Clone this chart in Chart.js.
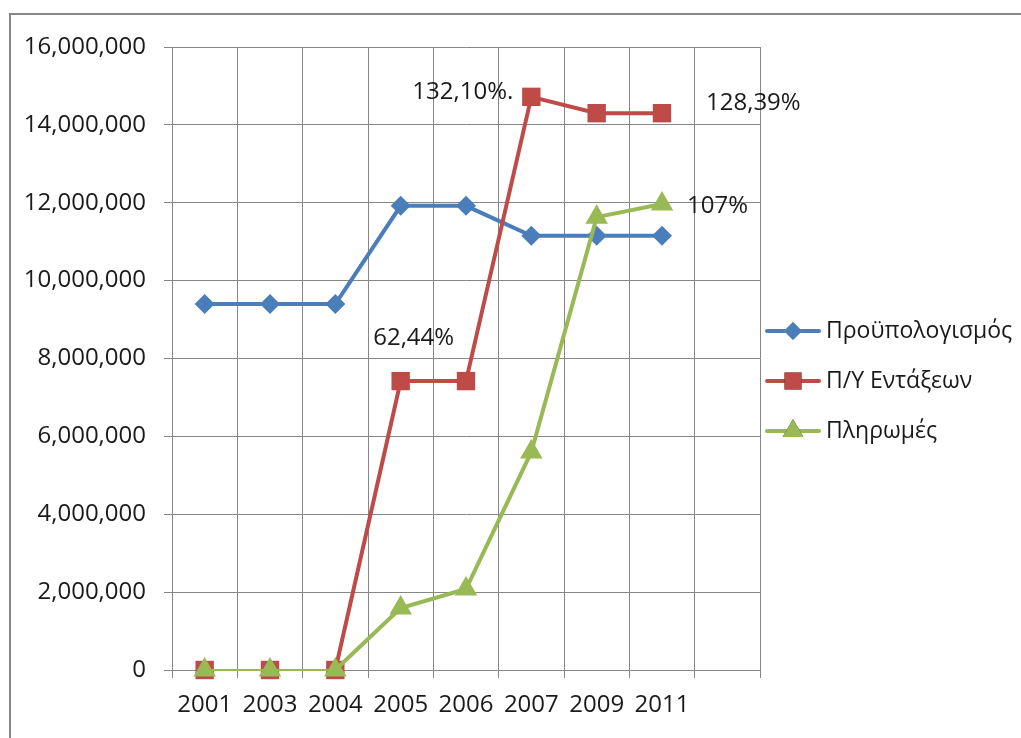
<!DOCTYPE html>
<html>
<head>
<meta charset="utf-8">
<script src="https://cdn.jsdelivr.net/npm/chart.js@4"></script>
<style>
  html, body { margin: 0; padding: 0; background: #fff; }
  #wrap { position: relative; width: 1021px; height: 738px; overflow: hidden; }
  #frame { position: absolute; left: 9px; top: 13px; width: 1040px; height: 760px;
           border-left: 2px solid #868686; border-top: 2px solid #868686; }
  canvas { position: absolute; left: 0; top: 0; }
</style>
</head>
<body>
<div id="wrap">
  <div id="frame"></div>
  <canvas id="chart" width="1021" height="738"></canvas>
</div>
<script>
// --- Data ---
const years = ['2001', '2003', '2004', '2005', '2006', '2007', '2009', '2011', ''];
const budget = [9400000, 9400000, 9400000, 11920000, 11920000, 11150000, 11150000, 11150000];
const approved = [0, 0, 0, 7420000, 7420000, 14720000, 14300000, 14300000];
const payments = [0, 0, 0, 1590000, 2080000, 5600000, 11630000, 11970000];
const seriesNames = ['Προϋπολογισμός', 'Π/Υ Εντάξεων', 'Πληρωμές'];
const yTicks = [0, 2000000, 4000000, 6000000, 8000000, 10000000, 12000000, 14000000, 16000000];
const notes = ['62,44%', '132,10%.', '128,39%', '107%'];

const FONT = 'Open Sans';
const GRID = '#868686';
const TEXT = '#1a1a1a';

// --- Text notes next to points ---
const notesPlugin = {
  id: 'notes',
  afterDatasetsDraw(chart) {
    const ctx = chart.ctx;
    const place = [
      { ds: 1, i: 3, dx: 13, dy: -43, align: 'center' },
      { ds: 1, i: 5, dx: -18, dy: -5, align: 'right' },
      { ds: 1, i: 7, dx: 44, dy: -10, align: 'left' },
      { ds: 2, i: 7, dx: 25, dy: 2, align: 'left' },
    ];
    ctx.save();
    ctx.font = `24px "${FONT}"`;
    ctx.fillStyle = TEXT;
    ctx.textBaseline = 'middle';
    place.forEach((p, k) => {
      const pt = chart.getDatasetMeta(p.ds).data[p.i];
      ctx.textAlign = p.align;
      ctx.fillText(notes[k], pt.x + p.dx, pt.y + p.dy);
    });
    ctx.restore();
  }
};

// --- Legend: line + marker + name ---
const legendPlugin = {
  id: 'sideLegend',
  afterDraw(chart) {
    const ctx = chart.ctx;
    ctx.save();
    chart.data.datasets.forEach((ds, k) => {
      const y = 331 + k * 50;
      ctx.strokeStyle = ds.borderColor;
      ctx.lineWidth = 4;
      ctx.lineCap = 'round';
      ctx.beginPath();
      ctx.moveTo(767, y);
      ctx.lineTo(819, y);
      ctx.stroke();
      Chart.helpers.drawPoint(ctx, {
        pointStyle: ds.pointStyle,
        radius: ds.pointRadius - 1,
        rotation: 0,
        borderWidth: 0
      }, 793, y);
      ctx.fillStyle = ds.borderColor;
      ctx.fill();
      ctx.font = `23px "${FONT}"`;
      ctx.fillStyle = TEXT;
      ctx.textAlign = 'left';
      ctx.textBaseline = 'middle';
      ctx.fillText(seriesNames[k], 826, y);
    });
    ctx.restore();
  }
};

function series(label, data, color, style, radius, order) {
  return {
    label, data,
    borderColor: color,
    backgroundColor: color,
    pointBackgroundColor: color,
    pointBorderColor: color,
    pointBorderWidth: 0,
    borderWidth: 4,
    pointStyle: style,
    pointRadius: radius,
    tension: 0,
    clip: false,
    order,
    segment: {
      borderWidth: c => (c.p0.parsed.y === 0 && c.p1.parsed.y === 0) ? 2 : 4
    }
  };
}

new Chart(document.getElementById('chart'), {
  type: 'line',
  data: {
    labels: years,
    datasets: [
      series(seriesNames[0], budget, '#4a7ebb', 'rectRot', 10, 2),
      series(seriesNames[1], approved, '#be4b48', 'rect', 13, 1),
      series(seriesNames[2], payments, '#98b954', 'triangle', 13, 0),
    ]
  },
  options: {
    responsive: false,
    animation: false,
    layout: { padding: { left: 0, top: 47, right: 261, bottom: 0 } },
    plugins: { legend: { display: false }, tooltip: { enabled: false } },
    scales: {
      x: {
        offset: true,
        grid: { offset: true, color: GRID, lineWidth: 1, tickLength: 8, tickColor: GRID },
        border: { color: GRID },
        ticks: { color: TEXT, font: { family: FONT, size: 24 }, padding: 13, maxRotation: 0, autoSkip: false },
        afterFit: s => { s.height = 68; }
      },
      y: {
        min: 0, max: 16000000,
        afterBuildTicks: s => { s.ticks = yTicks.map(v => ({ value: v })); },
        grid: { color: GRID, lineWidth: 1, tickLength: 8, tickColor: GRID },
        border: { color: GRID },
        ticks: {
          color: TEXT, font: { family: FONT, size: 24 }, padding: 18,
          callback: v => v.toLocaleString('en-US')
        },
        afterFit: s => { s.width = 172; }
      }
    }
  },
  plugins: [notesPlugin, legendPlugin]
});
</script>
</body>
</html>
